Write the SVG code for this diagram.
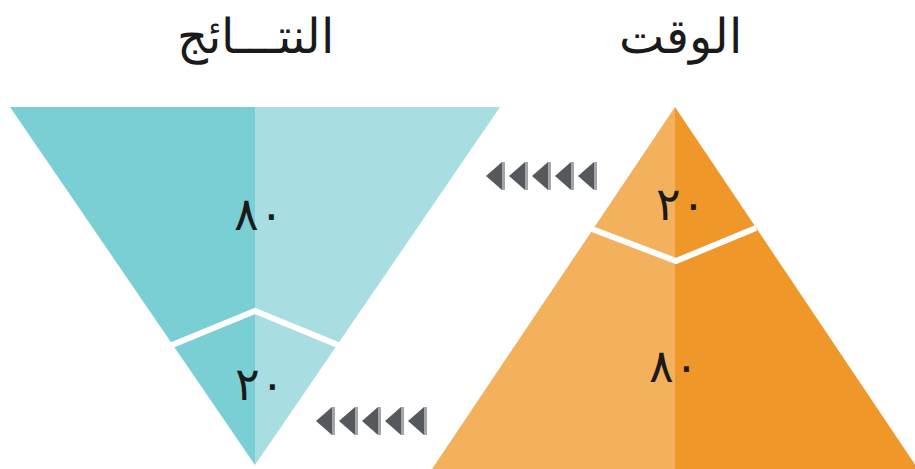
<svg xmlns="http://www.w3.org/2000/svg" width="915" height="469" viewBox="0 0 915 469">
<style>
.t{font-family:"DejaVu Sans","Noto Sans",sans-serif;fill:#1a1a1a;text-anchor:middle;font-weight:300}
.n{font-family:"DejaVu Sans","Noto Sans",sans-serif;fill:#1a1a1a;text-anchor:middle;font-weight:300}
.sep{fill:none;stroke:#ffffff;stroke-width:6;stroke-linejoin:miter}
.ah{fill:#55595e}
.ae{fill:#a3a5a8}
</style>
<defs>
<g id="arr"><polygon class="ah" points="0,0 16,-14 16,14"/><rect class="ae" x="16" y="-14" width="3" height="28"/></g>
</defs>
<rect width="915" height="469" fill="#ffffff"/>
<g id="title-results"><text class="t" x="255" y="53" font-size="48" direction="rtl">النتـــائج</text></g>
<g id="title-time"><text class="t" x="680" y="53" font-size="48" direction="rtl">الوقت</text></g>
<g id="results">
<polygon points="10,107 255,107 255,465" fill="#7acfd5"/>
<polygon points="255,107 500,107 255,465" fill="#a8dee1"/>
<polyline class="sep" points="172,345 255,311 338,345"/>
<text class="n" x="259" y="230" font-size="46">٨٠</text>
<text class="n" x="260" y="400" font-size="46">٢٠</text>
</g>
<g id="time">
<polygon points="675,107 675,469 432,469" fill="#f3b05d"/>
<polygon points="675,107 918,469 675,469" fill="#f0972a"/>
<polyline class="sep" points="592,229 676,261 756,228"/>
<text class="n" x="681" y="220" font-size="46">٢٠</text>
<text class="n" x="674" y="382" font-size="46">٨٠</text>
</g>
<g id="connectors">
<use href="#arr" x="486" y="176"/><use href="#arr" x="509" y="176"/><use href="#arr" x="532" y="176"/><use href="#arr" x="555" y="176"/><use href="#arr" x="578" y="176"/>
<use href="#arr" x="316" y="421"/><use href="#arr" x="339" y="421"/><use href="#arr" x="362" y="421"/><use href="#arr" x="385" y="421"/><use href="#arr" x="408" y="421"/>
</g>
</svg>
